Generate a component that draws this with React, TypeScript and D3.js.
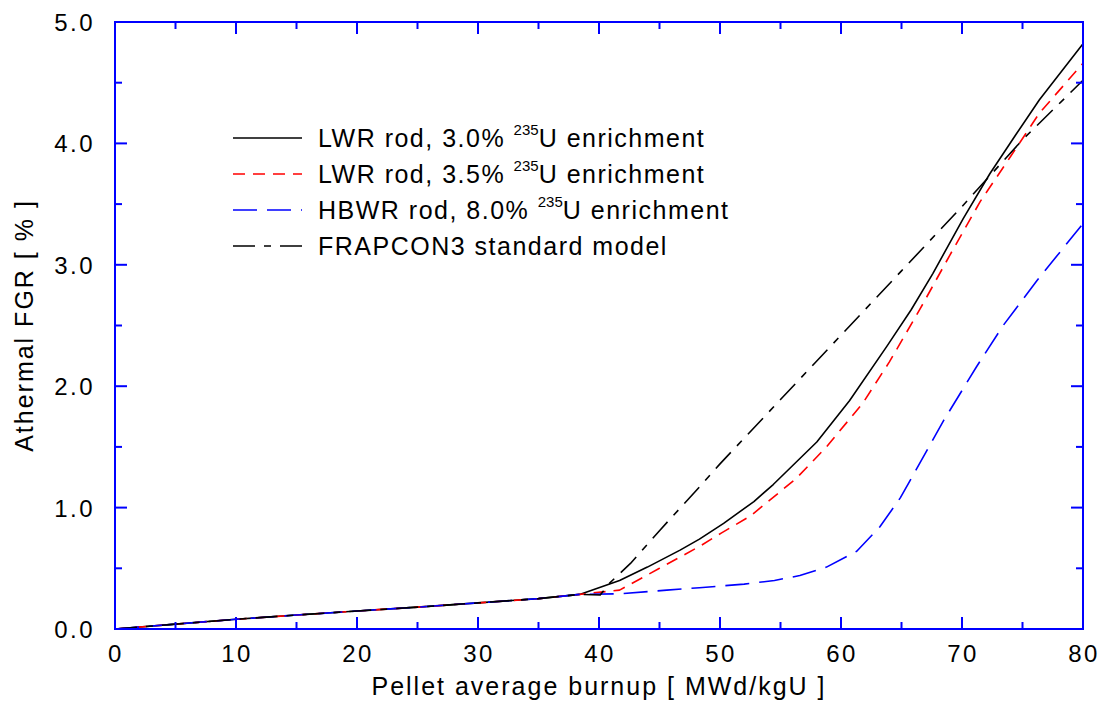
import { useEffect, useRef } from "react";
import * as d3 from "d3";

// shared low-burnup part (all four curves coincide here)
const lowBurnup = [0, 5, 10, 15, 20, 25, 30, 35, 38.4];
const lowFgr = [0, 0.04, 0.08, 0.115, 0.148, 0.18, 0.215, 0.25, 0.285];

const lwr30Burnup = [41.7, 44, 46.7, 48.3, 50.3, 52.8, 54.4, 58, 60.7, 63.8, 65.8, 67.6, 70.1, 72.3, 74.5, 76.4, 80];
const lwr30Fgr = [0.4, 0.51, 0.65, 0.74, 0.87, 1.05, 1.19, 1.54, 1.88, 2.33, 2.63, 2.93, 3.38, 3.75, 4.08, 4.36, 4.82];

const lwr35Burnup = [41.7, 45, 48.3, 50.1, 52.5, 56.3, 58.8, 61.8, 64, 66.5, 69, 71.5, 74, 76.4, 80];
const lwr35Fgr = [0.32, 0.5, 0.68, 0.79, 0.93, 1.24, 1.5, 1.86, 2.2, 2.63, 3.08, 3.52, 3.89, 4.25, 4.66];

const hbwrBurnup = [41.7, 45.6, 48.3, 52, 54.5, 56.6, 58.8, 61.3, 63.2, 64.9, 66.2, 68.5, 71.2, 73.4, 76.2, 80];
const hbwrFgr = [0.29, 0.32, 0.34, 0.37, 0.4, 0.44, 0.51, 0.64, 0.84, 1.08, 1.31, 1.72, 2.16, 2.5, 2.87, 3.34];

const frapBurnup = [40.1, 40.9, 42.6, 45, 48.3, 50, 55, 60, 65, 70, 75, 80];
const frapFgr = [0.28, 0.38, 0.54, 0.81, 1.17, 1.36, 1.89, 2.42, 2.95, 3.48, 4.03, 4.52];

const xTicks = [0, 10, 20, 30, 40, 50, 60, 70, 80];
const yTicks = [0, 1, 2, 3, 4, 5];

const legendLabels = [
  ["LWR rod, 3.0% ", "235", "U enrichment"],
  ["LWR rod, 3.5% ", "235", "U enrichment"],
  ["HBWR rod, 8.0% ", "235", "U enrichment"],
  ["FRAPCON3 standard model", "", ""],
];

const series = [
  { bu: lwr30Burnup, fgr: lwr30Fgr, color: "#000000", dash: null },
  { bu: lwr35Burnup, fgr: lwr35Fgr, color: "#ff0000", dash: "12,8" },
  { bu: hbwrBurnup, fgr: hbwrFgr, color: "#0000ff", dash: "24,10" },
  { bu: frapBurnup, fgr: frapFgr, color: "#000000", dash: "22,9,7,9" },
];

const FONT = "'Liberation Sans', Arial, Helvetica, sans-serif";

const App = () => {
  const svgRef = useRef(null);
  const width = 1103;
  const height = 709;

  useEffect(() => {
    const svgElement = svgRef.current;
    if (!svgElement) return;
    const margin = { top: 22, right: 20, bottom: 80, left: 115 };
    const x = d3.scaleLinear().domain([0, 80]).range([margin.left, width - margin.right]);
    const y = d3.scaleLinear().domain([0, 5]).range([height - margin.bottom, margin.top]);

    const svg = d3.select(svgElement);
    svg.selectAll("*").remove();

    const line = d3
      .line()
      .x((d) => x(d[0]))
      .y((d) => y(d[1]));

    // curves
    const lowPts = lowBurnup.map((b, i) => [b, lowFgr[i]]);
    svg.append("g")
      .attr("class", "curves")
      .selectAll("path")
      .data(series)
      .join("path")
      .attr("d", (s) => line(lowPts.concat(s.bu.map((b, i) => [b, s.fgr[i]]))))
      .attr("fill", "none")
      .attr("stroke", (s) => s.color)
      .attr("stroke-width", 1.6)
      .attr("stroke-linejoin", "round")
      .attr("stroke-dasharray", (s) => s.dash);

    // axes frame with inward ticks
    const axisColor = "#0000ff";
    const x0 = x(0), x1 = x(80), y0 = y(0), y1 = y(5);
    svg.append("rect")
      .attr("x", x0).attr("y", y1)
      .attr("width", x1 - x0).attr("height", y0 - y1)
      .attr("fill", "none").attr("stroke", axisColor).attr("stroke-width", 2);

    const xAll = d3.range(0, 81, 5);
    const yAll = d3.range(0, 5.01, 0.5);
    const ticks = svg.append("g").attr("stroke", axisColor).attr("stroke-width", 2);
    xAll.forEach((v) => {
      const len = v % 10 === 0 ? 12 : 7;
      ticks.append("line").attr("x1", x(v)).attr("x2", x(v)).attr("y1", y0).attr("y2", y0 - len);
      ticks.append("line").attr("x1", x(v)).attr("x2", x(v)).attr("y1", y1).attr("y2", y1 + len);
    });
    yAll.forEach((v) => {
      const len = Math.abs(v - Math.round(v)) < 1e-6 ? 12 : 7;
      ticks.append("line").attr("x1", x0).attr("x2", x0 + len).attr("y1", y(v)).attr("y2", y(v));
      ticks.append("line").attr("x1", x1).attr("x2", x1 - len).attr("y1", y(v)).attr("y2", y(v));
    });

    // tick labels
    svg.append("g")
      .selectAll("text")
      .data(xTicks)
      .join("text")
      .attr("x", (d) => x(d) + 1)
      .attr("y", y0 + 33)
      .attr("text-anchor", "middle")
      .attr("font-family", FONT)
      .attr("font-size", 24)
      .attr("letter-spacing", 2.5)
      .text((d) => d);

    svg.append("g")
      .selectAll("text")
      .data(yTicks)
      .join("text")
      .attr("x", x0 - 20)
      .attr("y", (d) => y(d) + 9)
      .attr("text-anchor", "end")
      .attr("font-family", FONT)
      .attr("font-size", 24)
      .attr("letter-spacing", 2.5)
      .text((d) => d3.format(".1f")(d));

    // axis titles
    svg.append("text")
      .attr("x", (x0 + x1) / 2)
      .attr("y", 695)
      .attr("text-anchor", "middle")
      .attr("font-family", FONT)
      .attr("font-size", 25)
      .attr("letter-spacing", 2)
      .text("Pellet average burnup [ MWd/kgU ]");

    svg.append("text")
      .attr("transform", `translate(33, ${(y0 + y1) / 2}) rotate(-90)`)
      .attr("text-anchor", "middle")
      .attr("font-family", FONT)
      .attr("font-size", 25)
      .attr("letter-spacing", 2)
      .text("Athermal FGR [ % ]");

    // legend
    const legend = svg.append("g");
    legendLabels.forEach((lab, i) => {
      const ly = 138 + i * 36;
      const s = series[i];
      legend.append("line")
        .attr("x1", 233).attr("x2", 302).attr("y1", ly).attr("y2", ly)
        .attr("stroke", s.color).attr("stroke-width", 1.6)
        .attr("stroke-dasharray", s.dash);
      const t = legend.append("text")
        .attr("x", 318).attr("y", ly + 9)
        .attr("font-family", FONT)
        .attr("font-size", 25)
        .attr("letter-spacing", 1.5);
      t.append("tspan").text(lab[0]);
      if (lab[1]) {
        t.append("tspan").attr("dy", -12).attr("font-size", 15).attr("letter-spacing", 0).text(lab[1]);
        t.append("tspan").attr("dy", 12).text(lab[2]);
      }
    });
  }, [width, height]);

  return (
    <svg
      ref={svgRef}
      width={width}
      height={height}
      style={{ position: "absolute", left: 0, top: 0, background: "#fff" }}
    ></svg>
  );
};

export default App;
